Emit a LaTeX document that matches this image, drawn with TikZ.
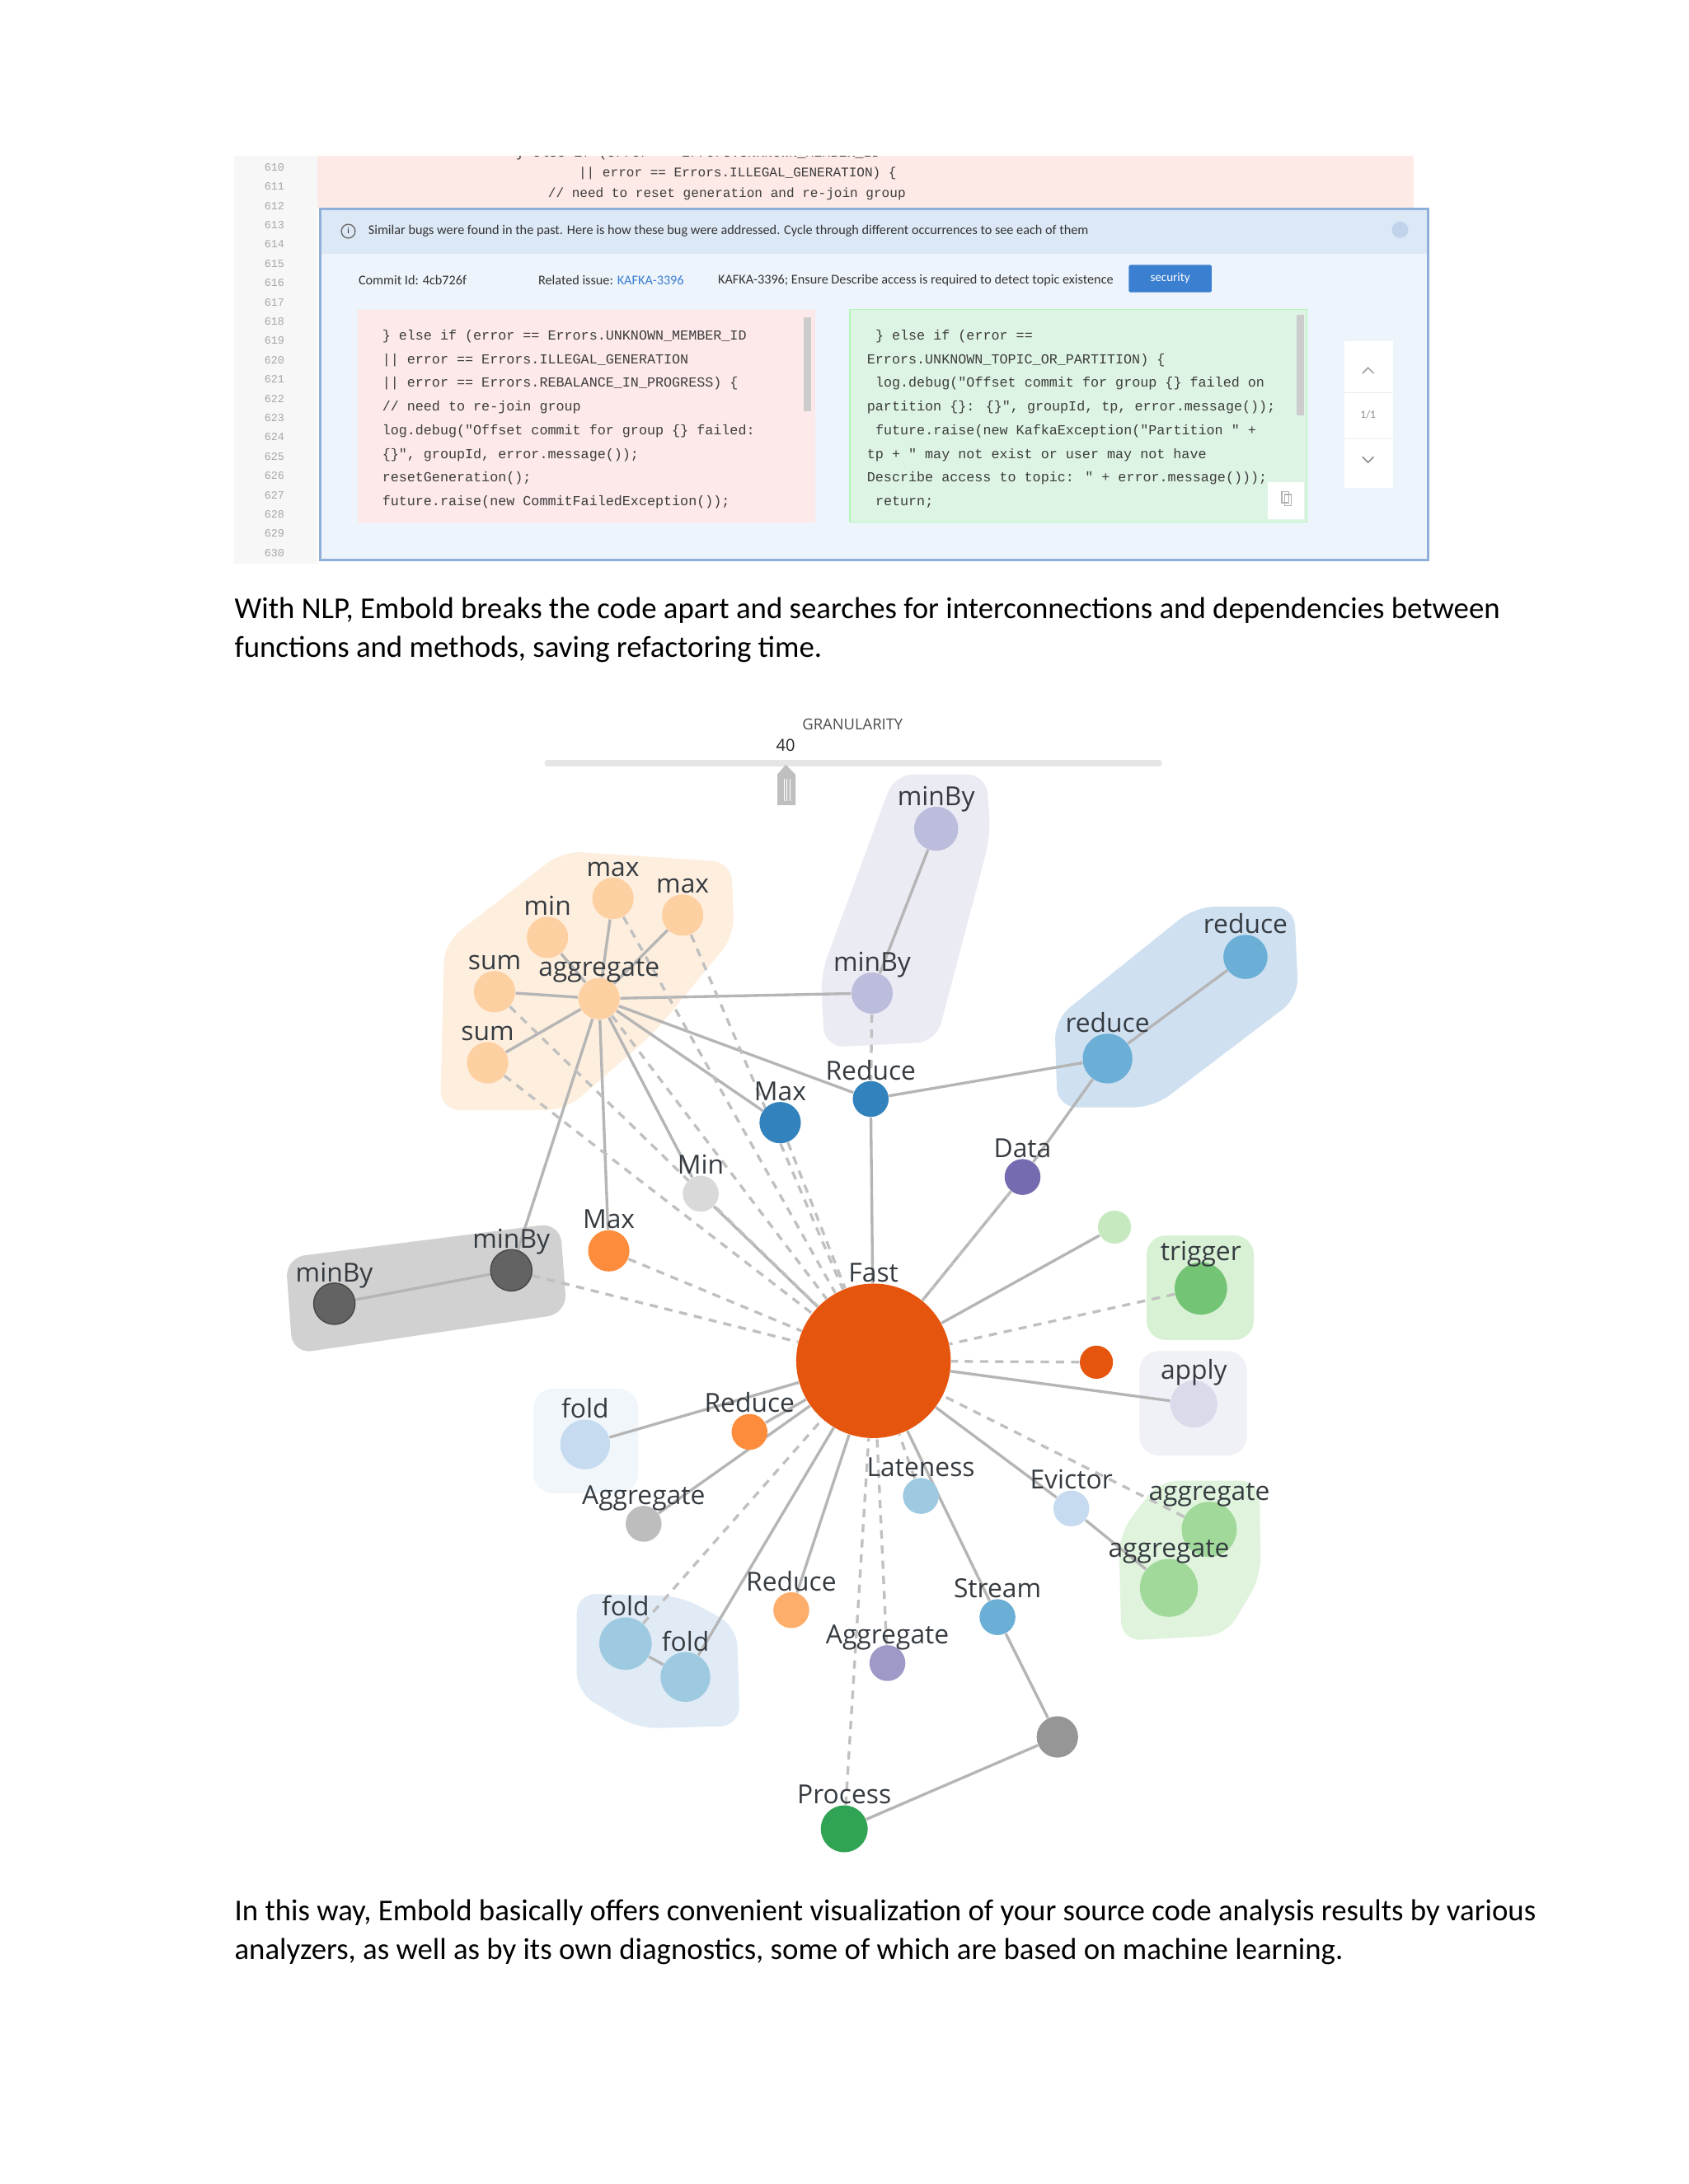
\documentclass[tikz,border=0pt]{standalone}
\usepackage{fontspec}
\setmainfont{Carlito}
\newfontfamily\graphfont{Open Sans}
\newfontfamily\codefont{Liberation Mono}
\usetikzlibrary{positioning,backgrounds}

\definecolor{cFast}{HTML}{E6550D}
\definecolor{cOrLt}{HTML}{FDD0A2}
\definecolor{cOrMd}{HTML}{FD8D3C}
\definecolor{cOrPl}{HTML}{FDAE6B}
\definecolor{cBlDk}{HTML}{3182BD}
\definecolor{cBlMd}{HTML}{6BAED6}
\definecolor{cBlLt}{HTML}{9ECAE1}
\definecolor{cBlPl}{HTML}{C6DBEF}
\definecolor{cPuDk}{HTML}{756BB1}
\definecolor{cPuMd}{HTML}{9E9AC8}
\definecolor{cPuLt}{HTML}{BCBDDC}
\definecolor{cPuPl}{HTML}{DADAEB}
\definecolor{cGnDk}{HTML}{31A354}
\definecolor{cGnMd}{HTML}{74C476}
\definecolor{cGnLt}{HTML}{A1D99B}
\definecolor{cGnPl}{HTML}{C7E9C0}
\definecolor{cGyDk}{HTML}{636363}
\definecolor{cGyMd}{HTML}{969696}
\definecolor{cGyLt}{HTML}{BDBDBD}
\definecolor{cGyPl}{HTML}{D9D9D9}
\definecolor{cLabel}{HTML}{353B40}
\definecolor{cLink}{HTML}{B5B5B5}
\definecolor{cPink}{HTML}{FDE9EA}
\definecolor{cStrip}{HTML}{FDEAE6}
\definecolor{cMint}{HTML}{DDF4E4}
\definecolor{cPanel}{HTML}{EEF4FB}
\definecolor{cHead}{HTML}{DCE8F6}
\definecolor{cFrame}{HTML}{8DAFD9}
\definecolor{cBtn}{HTML}{3A7FD0}
\definecolor{cCode}{HTML}{3C3C3C}

\pgfdeclarelayer{paper}
\pgfdeclarelayer{hulls}
\pgfdeclarelayer{edges}
\pgfsetlayers{paper,hulls,edges,main}

\newcommand\cq{\symbol{34}}

\begin{document}
\begin{tikzpicture}[
    x=0.50495pt, y=-0.50495pt,
    vtx/.style={circle, inner sep=0pt, minimum size=#1},
    lbl/.style={font=\graphfont\fontsize{9.5}{10}\selectfont, text=cLabel, inner sep=0pt, anchor=base},
    lab/.style={label={[lbl]above:#1}},
    link/.style={draw=cLink, line width=1pt},
    dlink/.style={draw=cLink!85, line width=1pt, dash pattern=on 3pt off 2.5pt},
    hull/.style={rounded corners=7pt},
    code/.style={font=\codefont\fontsize{5}{6}\selectfont, text=cCode, inner sep=0pt, anchor=base west},
    small/.style={font=\fontsize{4.85}{5}\selectfont, text=black!80, inner sep=0pt, anchor=base west},
    para/.style={font=\fontsize{11}{13}\selectfont, inner sep=0pt, anchor=base west},
    label distance=0.3pt
]

\begin{pgfonlayer}{paper}
\useasboundingbox[fill=white] (0,0) rectangle (1212,1568);
\end{pgfonlayer}

% Screenshot of the code review panel
\fill[black!3] (168,112) rectangle (228,405);
\foreach \n [count=\i from 0] in {610,...,630}
    \node[font=\codefont\fontsize{4}{5}\selectfont, text=black!35, inner sep=0pt] (ln\n) at (197,120+13.85*\i) {\n};
\fill[cStrip] (228,112) rectangle (1015,150);
\begin{scope}
    \clip (228,112) rectangle (1015,150);
    \node[code] (top0) at (370,113) {\} else if (error == Errors.UNKNOWN\_MEMBER\_ID};
\end{scope}
\node[code, font=\codefont\fontsize{4.8}{6}\selectfont] (top1) at (415,127) {|| error == Errors.ILLEGAL\_GENERATION) \{};
\node[code, font=\codefont\fontsize{4.8}{6}\selectfont] (top2) at (393,142) {// need to reset generation and re-join group};

\draw[cFrame, fill=cPanel, line width=0.8pt] (230,150) rectangle (1025,402);
\fill[cHead] (231,151) rectangle (1024,182);
\node[circle, draw=black!60, line width=0.4pt, inner sep=0pt, minimum size=5pt, font=\fontsize{3}{3}\selectfont] (info) at (250,166) {i};
\node[small, anchor=west] (hint) at (264,166) {Similar bugs were found in the past. Here is how these bug were addressed. Cycle through different occurrences to see each of them};
\node[circle, fill=cFrame!55, inner sep=0pt, minimum size=6pt] (close) at (1005,165) {};

\node[small, anchor=west] (commit) at (257,201) {Commit Id: 4cb726f};
\node[small, anchor=west] (issue) at (386,201) {Related issue: \textcolor{cBtn}{KAFKA-3396}};
\node[small, anchor=west] (title) at (515,201) {KAFKA-3396; Ensure Describe access is required to detect topic existence};
\node[fill=cBtn, text=white, font=\fontsize{4.5}{5}\selectfont, minimum width=30pt, minimum height=10pt, inner sep=0pt, rounded corners=0.5pt] (tag) at (840,200) {security};

% old code (pink) and fixed code (green)
\draw[fill=cPink, draw=red!10] (257,223) rectangle (585,375);
\fill[black!20] (577,228) rectangle (582,295);
\draw[fill=cMint, draw=green!20!cMint] (610,222) rectangle (938,375);
\fill[black!20] (931,226) rectangle (936,298);
\fill[white] (910,346) rectangle (936,373);
\draw[black!30, line width=0.4pt] (920,353) rectangle (925,361) (922,355) rectangle (927,363);

\foreach \t [count=\i] in {
    {\} else if (error == Errors.UNKNOWN\_MEMBER\_ID},
    {|| error == Errors.ILLEGAL\_GENERATION},
    {|| error == Errors.REBALANCE\_IN\_PROGRESS) \{},
    {// need to re-join group},
    {log.debug(\cq Offset commit for group \{\} failed:},
    {\{\}\cq, groupId, error.message());},
    {resetGeneration();},
    {future.raise(new CommitFailedException());}}
    \node[code] (old\i) at (274,227+17*\i) {\t};

\node[code] (new1) at (628,244) {\} else if (error ==};
\node[code] (new2) at (622,261) {Errors.UNKNOWN\_TOPIC\_OR\_PARTITION) \{};
\node[code] (new3) at (628,278) {log.debug(\cq Offset commit for group \{\} failed on};
\node[code] (new4) at (622,295) {partition \{\}: \{\}\cq, groupId, tp, error.message());};
\node[code] (new5) at (628,312) {future.raise(new KafkaException(\cq Partition \cq\ +};
\node[code] (new6) at (622,329) {tp + \cq\ may not exist or user may not have};
\node[code] (new7) at (622,346) {Describe access to topic: \cq\ + error.message()));};
\node[code] (new8) at (628,363) {return;};

% pager
\fill[white] (965,245) rectangle (1000,350);
\draw[black!8] (965,282) -- (1000,282) (965,315) -- (1000,315);
\draw[black!35, line width=0.5pt] (978,268) -- (982,264) -- (986,268);
\node[font=\fontsize{4}{5}\selectfont, text=black!45, inner sep=0pt] (page) at (982,298) {1/1};
\draw[black!45, line width=0.5pt] (978,328) -- (982,332) -- (986,328);

% text
\node[para] (p1a) at (168,444) {With NLP, Embold breaks the code apart and searches for interconnections and dependencies between};
\node[para] (p1b) at (168,472) {functions and methods, saving refactoring time.};

% granularity slider
\node[font=\graphfont\fontsize{5.5}{6}\selectfont, text=black!70, inner sep=0pt] (gran) at (612,520) {GRANULARITY};
\node[font=\graphfont\fontsize{6}{7}\selectfont, text=black!85, inner sep=0pt] (level) at (564,535) {40};
\draw[black!10, line width=2.2pt, line cap=round] (393,548) -- (832,548);
\fill[black!25] (558,556) -- (564,549) -- (571,556) -- (571,578) -- (558,578) -- cycle;
\draw[white, line width=0.3pt] (563,559) -- (563,575) (565,559) -- (565,575) (567,559) -- (567,575);

% group hulls
\begin{pgfonlayer}{hulls}
\fill[hull, cOrLt!35] (404,611) -- (525,619) -- (527,672) -- (469,742) -- (406,797) -- (316,797) -- (319,677) -- cycle;
\fill[hull, cPuPl!55] (642,556) -- (708,556) -- (711,600) -- (672,748) -- (592,752) -- (589,700) -- cycle;
\fill[hull, cBlPl!85] (858,651) -- (929,651) -- (932,716) -- (828,795) -- (759,795) -- (757,732) -- cycle;
\fill[hull, black!18] (205,903) -- (402,878) -- (407,943) -- (210,972) -- cycle;
\fill[hull, cGnPl!70] (823,887) rectangle (900,962);
\fill[hull, cPuPl!40] (818,970) rectangle (895,1045);
\fill[hull, cGnPl!55] (832,1063) -- (904,1063) -- (905,1132) -- (880,1174) -- (805,1178) -- (803,1102) -- cycle;
\fill[hull, cBlPl!55] (414,1144) -- (489,1146) -- (529,1168) -- (531,1239) -- (458,1241) -- (414,1215) -- cycle;
\fill[hull, cBlPl!25] (383,997) rectangle (458,1072);
\end{pgfonlayer}

% Nodes
\node[vtx=56pt, fill=cFast, lab=Fast] (fast) at (627,977) {};

\node[vtx=16pt, fill=cPuLt, lab=minBy] (minbyA) at (672,595) {};
\node[vtx=15pt, fill=cPuLt, lab=minBy] (minbyB) at (626,713) {};

\node[vtx=15pt, fill=cOrLt, lab=max] (maxA) at (440,645) {};
\node[vtx=15pt, fill=cOrLt, lab=max] (maxB) at (490,657) {};
\node[vtx=15pt, fill=cOrLt, lab=min] (minA) at (393,673) {};
\node[vtx=15pt, fill=cOrLt, lab=sum] (sumA) at (355,712) {};
\node[vtx=15pt, fill=cOrLt, lab=aggregate] (aggA) at (430,717) {};
\node[vtx=15pt, fill=cOrLt, lab=sum] (sumB) at (350,763) {};

\node[vtx=15pt, fill=cBlDk, lab=Max] (maxC) at (560,806) {};
\node[vtx=13pt, fill=cBlDk, lab=Reduce] (reduceA) at (625,789) {};
\node[vtx=18pt, fill=cBlMd, lab=reduce] (reduceB) at (795,760) {};
\node[vtx=16pt, fill=cBlMd, lab=reduce] (reduceC) at (894,687) {};
\node[vtx=13pt, fill=cPuDk, lab=Data] (data) at (734,845) {};
\node[vtx=13pt, fill=cGyPl, lab=Min] (minB) at (503,857) {};
\node[vtx=15pt, fill=cOrMd, lab=Max] (maxD) at (437,898) {};
\node[vtx=15pt, fill=cGyDk, draw=cGyDk!70!black, lab=minBy] (minbyC) at (367,912) {};
\node[vtx=15pt, fill=cGyDk, draw=cGyDk!70!black, lab=minBy] (minbyD) at (240,936) {};

\node[vtx=12pt, fill=cGnPl] (green) at (800,881) {};
\node[vtx=19pt, fill=cGnMd, lab=trigger] (trigger) at (862,925) {};
\node[vtx=12pt, fill=cFast] (spark) at (787,978) {};
\node[vtx=17pt, fill=cPuPl, lab=apply] (apply) at (857,1008) {};
\node[vtx=13pt, fill=cBlPl, lab=Evictor] (evictor) at (769,1083) {};
\node[vtx=20pt, fill=cGnLt, lab=aggregate] (aggB) at (868,1098) {};
\node[vtx=21pt, fill=cGnLt, lab=aggregate] (aggC) at (839,1140) {};
\node[vtx=13pt, fill=cBlLt, lab=Lateness] (lateness) at (661,1074) {};
\node[vtx=13pt, fill=cBlMd, lab=Stream] (stream) at (716,1161) {};
\node[vtx=15pt, fill=cGyMd] (hub) at (759,1247) {};
\node[vtx=17pt, fill=cGnDk, lab=Process] (process) at (606,1313) {};
\node[vtx=13pt, fill=cPuMd, lab=Aggregate] (aggD) at (637,1194) {};
\node[vtx=13pt, fill=cOrPl, lab=Reduce] (reduceD) at (568,1156) {};
\node[vtx=19pt, fill=cBlLt, lab=fold] (foldA) at (449,1180) {};
\node[vtx=18pt, fill=cBlLt, lab=fold] (foldB) at (492,1204) {};
\node[vtx=13pt, fill=cOrMd, lab=Reduce] (reduceE) at (538,1028) {};
\node[vtx=18pt, fill=cBlPl, lab=fold] (foldC) at (420,1037) {};
\node[vtx=13pt, fill=cGyLt, lab=Aggregate] (aggE) at (462,1094) {};

% Links
\begin{pgfonlayer}{edges}
\foreach \a/\b in {aggA/maxA, aggA/maxB, aggA/minA, aggA/sumA, aggA/sumB, aggA/minbyB,
    aggA/reduceA, aggA/maxC, aggA/minB, aggA/maxD, aggA/minbyC, minbyA/minbyB,
    minbyC/minbyD, reduceA/fast, reduceA/reduceB, reduceB/reduceC, reduceB/data,
    data/fast, green/fast, apply/fast, evictor/fast, evictor/aggC, stream/fast,
    stream/hub, hub/process, reduceD/fast, foldB/fast, foldA/foldB, aggE/fast,
    reduceE/fast, foldC/fast, minB/fast}
    \draw[link] (\a) -- (\b);
\foreach \a in {maxA, maxB, sumA, sumB, aggA, maxC, maxD, minbyC, data, trigger,
    spark, aggB, lateness, process, aggD, foldA}
    \draw[dlink] (\a) -- (fast);
\draw[dlink] (minbyB) -- (reduceA);
\end{pgfonlayer}

% closing text
\node[para] (p2a) at (168,1379) {In this way, Embold basically offers convenient visualization of your source code analysis results by various};
\node[para] (p2b) at (168,1407) {analyzers, as well as by its own diagnostics, some of which are based on machine learning.};

\end{tikzpicture}
\end{document}
